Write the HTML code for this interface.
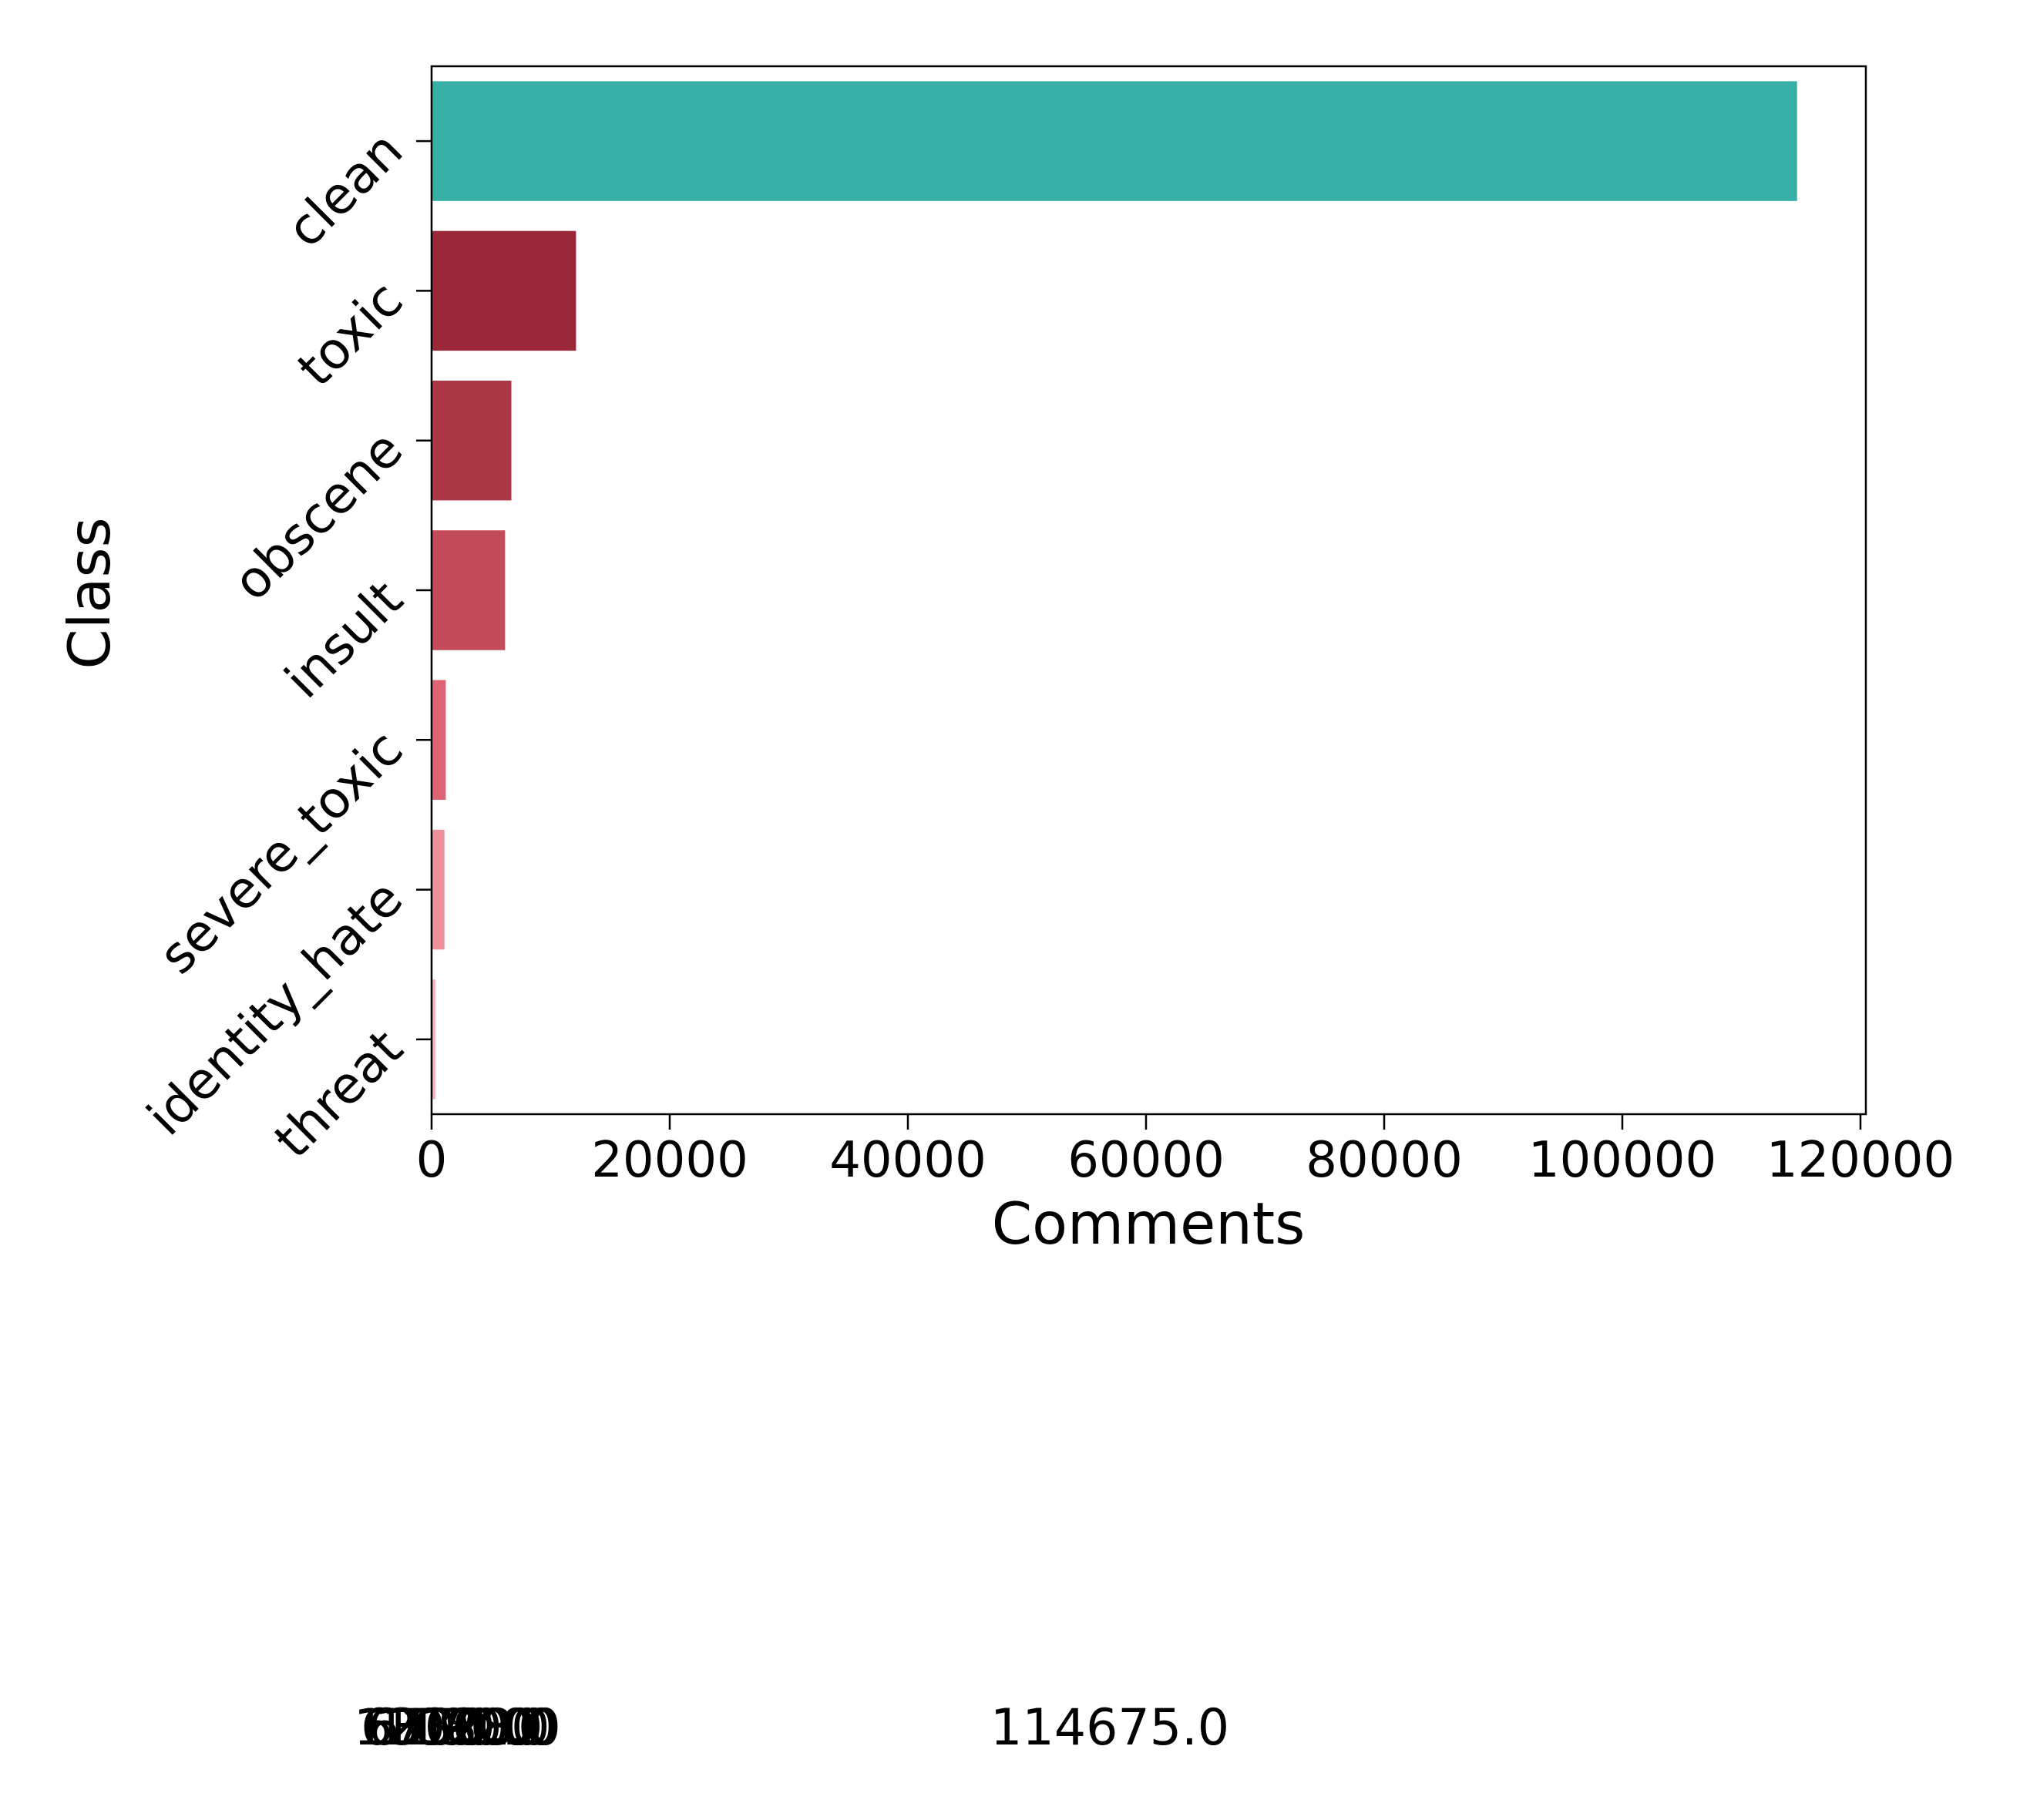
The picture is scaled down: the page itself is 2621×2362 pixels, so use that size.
<!DOCTYPE html>
<html><head><meta charset="utf-8"><style>
html,body{margin:0;padding:0;background:#fff;}
svg{display:block;font-family:"DejaVu Sans","Liberation Sans",sans-serif;}
</style></head><body>
<svg id="chart" width="2621" height="2362" viewBox="0 0 2621 2362" xmlns="http://www.w3.org/2000/svg">
<rect width="2621" height="2362" fill="#fff"/>
<g id="bars"></g>
<g id="yticks"></g>
<g id="xticks"></g>
<rect x="560" y="86" width="1861" height="1360" fill="none" stroke="#000" stroke-width="2.5"/>
<text x="1490" y="1614" font-size="75" text-anchor="middle">Comments</text>
<text transform="translate(142,770) rotate(-90)" font-size="75" text-anchor="middle">Class</text>
<g id="vals"></g>
</svg>
<script>
const categories = ["clean","toxic","obscene","insult","severe_toxic","identity_hate","threat"];
const counts = [114675, 12128, 6700, 6170, 1190, 1080, 330];
const colors = ["#36b0a6","#9b2838","#ab3745","#c34a58","#de6475","#ec909a","#f3b4bb"];
const xTicks = [0,20000,40000,60000,80000,100000,120000];
const NS="http://www.w3.org/2000/svg";
const L=560,T=86,B=1446;
const xs=v=>L+v*(2414-560)/120000;
const band=(B-T)/categories.length;
const yc=i=>T+band*(i+0.5);
function mk(tag,attrs,parent){const e=document.createElementNS(NS,tag);for(const k in attrs)e.setAttribute(k,attrs[k]);parent.appendChild(e);return e;}
const gb=document.getElementById('bars'),gy=document.getElementById('yticks'),gx=document.getElementById('xticks'),gv=document.getElementById('vals');
categories.forEach((c,i)=>{
  const r=mk('rect',{x:L,y:yc(i)-band*0.4,width:xs(counts[i])-L,height:band*0.8,fill:colors[i]},gb);
  
  
  const t=mk('line',{x1:L-20,x2:L,y1:yc(i),y2:yc(i),stroke:'#000','stroke-width':2.5},gy);
  
  
  const lb=mk('text',{transform:`translate(${L-34},${yc(i)+16}) rotate(-45)`,'font-size':66,'text-anchor':'end'},gy);
  lb.textContent=c;
  
  
  const vl=mk('text',{x:(i===0?1285:450+i*9),y:2264,'font-size':65},gv);
  vl.textContent=counts[i].toFixed(1);
  
  
});
xTicks.forEach(v=>{
  const t=mk('line',{x1:xs(v),x2:xs(v),y1:B,y2:B+20,stroke:'#000','stroke-width':2.5},gx);
  
  
  const lb=mk('text',{x:xs(v),y:1527,'font-size':64,'text-anchor':'middle'},gx);
  lb.textContent=String(v);
  
  
});
</script>
</body></html>
